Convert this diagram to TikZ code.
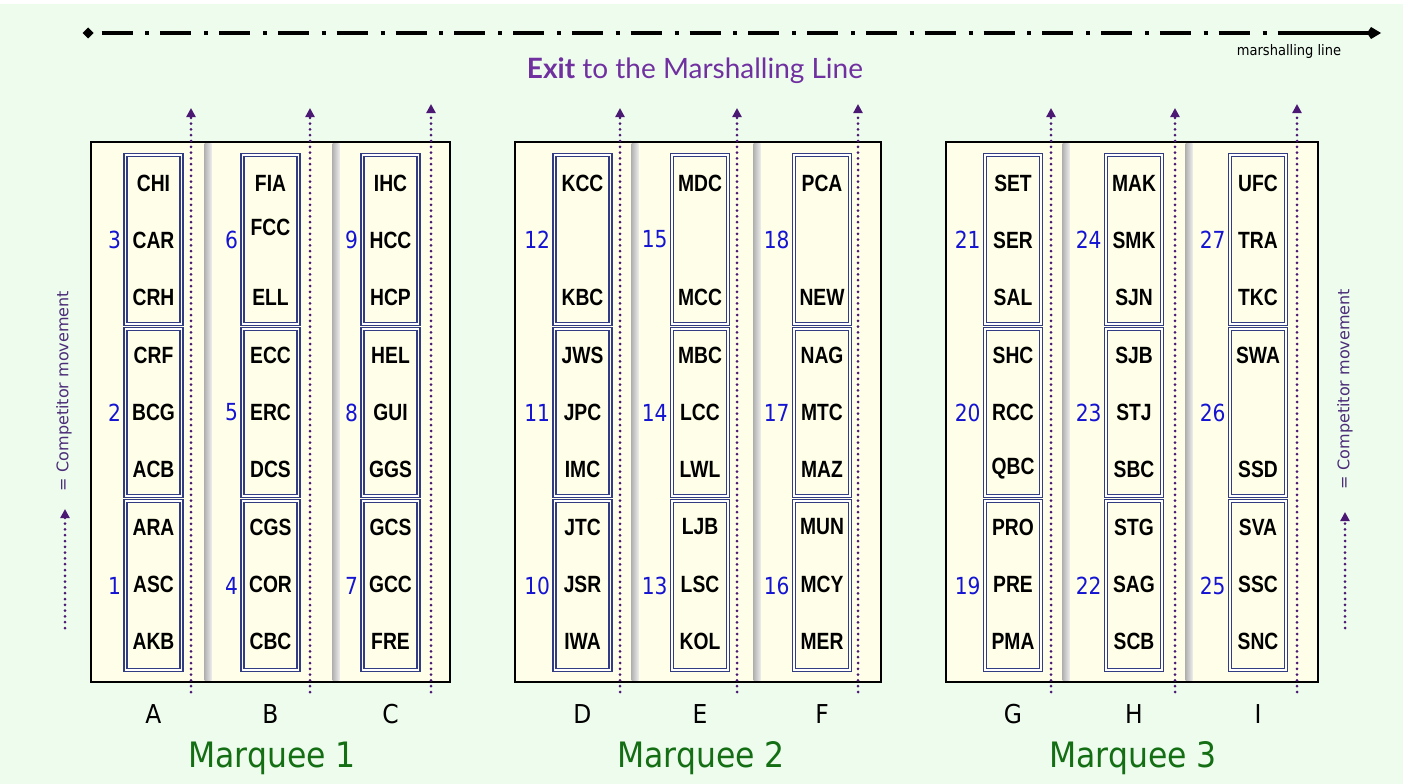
\documentclass[tikz,border=0pt]{standalone}
\usepackage{fontspec}
\setmainfont{Liberation Sans}
\newfontfamily\boxfont{Liberation Sans}[FakeStretch=0.82]
\newfontfamily\numfont{DejaVu Sans}[FakeStretch=0.86]
\newfontfamily\latofont{Lato}
\newfontfamily\handfont{DejaVu Sans}[FakeStretch=0.9]
\newfontfamily\legfont{DejaVu Sans}
\usetikzlibrary{arrows.meta,shapes.geometric}
\definecolor{bggreen}{RGB}{238,252,238}
\definecolor{cream}{RGB}{255,255,233}
\definecolor{boxnavy}{RGB}{50,60,130}
\definecolor{numblue}{RGB}{20,20,210}
\definecolor{movpurple}{RGB}{75,25,115}
\definecolor{exitpurple}{RGB}{112,48,160}
\definecolor{titlegreen}{RGB}{20,110,20}
\definecolor{legpurple}{RGB}{75,45,120}
\newcommand\standcol[7]{%
  \node[stand, minimum height=169pt] (#1b1) at (#2,239.5) {};
  \node[stand, minimum height=167pt] (#1b2) at (#2,412.5) {};
  \node[stand, minimum height=169pt] (#1b3) at (#2,585.5) {};
  \foreach \yy/\t [count=\k] in {#5} {\node[lbl] (#1l\k) at (#2,\yy) {\t};}
  \foreach \nn [count=\k] in {#4} {\node[num] (#1n\k) at ([xshift=-4.5pt]#1b\k.west) {\nn};}
  \node[colletter] (#1L) at (#2,723) {#3};
  \coordinate (#1a0) at (#6,692);
  \coordinate (#1a1) at (#6,#7);
  \draw[mov] (#1a0) -- (#1a1);
}
\begin{document}
\begin{tikzpicture}[x=1pt,y=-1pt,
  every node/.style={inner sep=0pt, outer sep=0pt},
  lbl/.style={font=\boxfont\bfseries\fontsize{23.5}{23.5}\selectfont, text=black},
  num/.style={font=\numfont\fontsize{23.5}{23.5}\selectfont, text=numblue, anchor=east},
  stand/.style={draw=boxnavy, line width=1.4pt, double=white, double distance=1.8pt, minimum width=56pt},
  marquee/.style={draw=black, line width=2.4pt, fill=cream},
  mov/.style={draw=movpurple, line width=3pt, line cap=round, dash pattern=on 0pt off 5.8pt, -{Triangle[width=9pt,length=9pt]}},
  colletter/.style={font=\handfont\fontsize{26}{26}\selectfont, anchor=base},
  mtitle/.style={font=\handfont\fontsize{35}{35}\selectfont, text=titlegreen, anchor=base},
  legend/.style={font=\legfont\fontsize{16}{16}\selectfont, text=legpurple, rotate=90}
]
\useasboundingbox (0,0) rectangle (1408,784);
\fill[white] (0,0) rectangle (1408,784);
\fill[bggreen] (0,4) rectangle (1403,784);

% marshalling line
\node[diamond, fill=black, minimum width=11pt, minimum height=11pt] (ml0) at (88,33) {};
\coordinate (ml1) at (1278,33);
\coordinate (ml2) at (1381,33);
\draw[line width=4pt, dash pattern=on 31pt off 12.8pt on 4pt off 11pt, shorten <=8pt] (ml0.east) -- (ml1);
\draw[line width=4pt, -{Kite[length=14pt,width=12pt,inset=4pt]}] (ml1) -- (ml2);
\node[font=\handfont\fontsize{14.5}{14.5}\selectfont, anchor=base] (mltext) at (1289,56) {marshalling line};
\node[font=\latofont\fontsize{28}{28}\selectfont, text=exitpurple, anchor=base] (exit) at (695,78) {\textbf{Exit} to the Marshalling Line};

% marquees
\node[marquee, minimum width=359pt, minimum height=540pt] (m1) at (270.5,412) {};
\node[marquee, minimum width=366pt, minimum height=540pt] (m2) at (698,412) {};
\node[marquee, minimum width=372pt, minimum height=540pt] (m3) at (1132,412) {};

% separating bars
\foreach \bx in {208,336,635,757,1066,1189} {
  \shade[left color=gray!60, right color=gray!15] (\bx-3.5,143.5) rectangle (\bx+3.5,680.5);
}

% stands
\standcol{A}{153.5}{A}{3,2,1}{183/CHI,240/CAR,297.5/CRH,355/CRF,412/BCG,469/ACB,527/ARA,584/ASC,641/AKB}{191}{108}
\standcol{B}{270.5}{B}{6,5,4}{183/FIA,227/FCC,297.5/ELL,355/ECC,412/ERC,469/DCS,527/CGS,584/COR,641/CBC}{310}{108}
\standcol{C}{390.5}{C}{9,8,7}{183/IHC,240/HCC,297.5/HCP,355/HEL,412/GUI,469/GGS,527/GCS,584/GCC,641/FRE}{431}{104}
\standcol{D}{582.5}{D}{12,11,10}{183/KCC,297.5/KBC,355/JWS,412/JPC,469/IMC,527/JTC,584/JSR,641/IWA}{620}{108}
\standcol{E}{700}{E}{15,14,13}{183/MDC,297.5/MCC,355/MBC,412/LCC,469/LWL,527/LJB,584/LSC,641/KOL}{737}{108}
\standcol{F}{822}{F}{18,17,16}{183/PCA,297.5/NEW,355/NAG,412/MTC,469/MAZ,527/MUN,584/MCY,641/MER}{858}{104}
\standcol{G}{1013}{G}{21,20,19}{183/SET,240/SER,297.5/SAL,355/SHC,412/RCC,469/QBC,527/PRO,584/PRE,641/PMA}{1051}{108}
\standcol{H}{1134}{H}{24,23,22}{183/MAK,240/SMK,297.5/SJN,355/SJB,412/STJ,469/SBC,527/STG,584/SAG,641/SCB}{1175}{108}
\standcol{I}{1258}{I}{27,26,25}{183/UFC,240/TRA,297.5/TKC,355/SWA,469/SSD,527/SVA,584/SSC,641/SNC}{1297}{104}

% marquee titles
\node[mtitle] (t1) at (272,767) {Marquee 1};
\node[mtitle] (t2) at (701,767) {Marquee 2};
\node[mtitle] (t3) at (1133,767) {Marquee 3};

% legends
\node[legend] (legL) at (64,391) {= Competitor movement};
\coordinate (lgL0) at (65,628);
\coordinate (lgL1) at (65,509);
\draw[mov] (lgL0) -- (lgL1);
\node[legend] (legR) at (1345,389) {= Competitor movement};
\coordinate (lgR0) at (1345,628);
\coordinate (lgR1) at (1345,512);
\draw[mov] (lgR0) -- (lgR1);
\end{tikzpicture}
\end{document}
